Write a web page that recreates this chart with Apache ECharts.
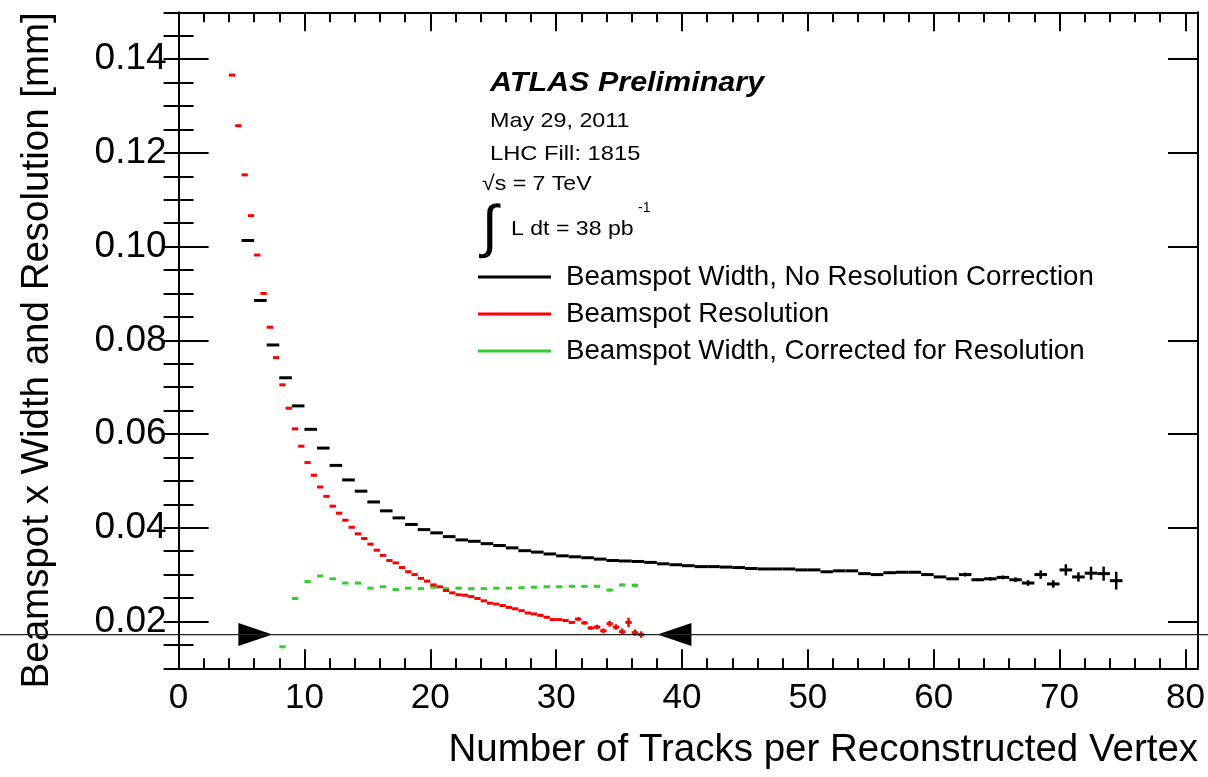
<!DOCTYPE html>
<html>
<head>
<meta charset="utf-8">
<script src="https://cdn.jsdelivr.net/npm/echarts@6.0.0/dist/echarts.min.js"></script>
<style>
html, body { margin: 0; padding: 0; background: #fff; }
#chart { width: 1208px; height: 777px; }
</style>
</head>
<body>
<div id="chart"></div>
<script>
const FONT = "'Liberation Sans', Arial, Helvetica, sans-serif";

// beamspot width, no resolution correction (bin centres, values, errors)
const blackX = [5.5, 6.5, 7.5, 8.5, 9.5, 10.5, 11.5, 12.5, 13.5, 14.5, 15.5, 16.5, 17.5, 18.5, 19.5, 20.5, 21.5, 22.5, 23.5, 24.5,
    25.5, 26.5, 27.5, 28.5, 29.5, 30.5, 31.5, 32.5, 33.5, 34.5, 35.5, 36.5, 37.5, 38.5, 39.5, 40.5, 41.5, 42.5, 43.5, 44.5,
    45.5, 46.5, 47.5, 48.5, 49.5, 50.5, 51.5, 52.5, 53.5, 54.5, 55.5, 56.5, 57.5, 58.5, 59.5, 60.5, 61.5, 62.5, 63.5, 64.5,
    65.5, 66.5, 67.5, 68.5, 69.5, 70.5, 71.5, 72.5, 73.5, 74.5];
const blackY = [0.1013, 0.0885, 0.0790, 0.0720, 0.0660, 0.0610, 0.0570, 0.0533, 0.0502, 0.0478, 0.0455, 0.0436, 0.0421, 0.0407, 0.0396, 0.0389, 0.0381, 0.0374, 0.0371, 0.0366,
    0.0362, 0.0357, 0.0351, 0.0348, 0.0344, 0.0340, 0.0338, 0.0336, 0.0333, 0.0330, 0.0329, 0.0328, 0.0326, 0.0323, 0.0321, 0.0319, 0.0317, 0.0317, 0.0316, 0.0315,
    0.0313, 0.0312, 0.0312, 0.0312, 0.0310, 0.0310, 0.0306, 0.0308, 0.0308, 0.0302, 0.0300, 0.0304, 0.0305, 0.0305, 0.0300, 0.0295, 0.0291, 0.0300, 0.0289, 0.0291,
    0.0294, 0.0289, 0.0282, 0.0300, 0.0280, 0.0310, 0.0295, 0.0303, 0.0302, 0.0287];
const blackErr = [0, 0, 0, 0, 0, 0, 0, 0, 0, 0, 0, 0, 0, 0, 0, 0, 0, 0, 0, 0,
    0, 0, 0, 0, 0, 0, 0, 0, 0, 0, 0, 0, 0, 0, 0, 0, 0, 0, 0, 0,
    0, 0, 0, 0, 0, 0, 0, 0, 0, 0.0002, 0.0002, 0.0002, 0.0002, 0.0002, 0.0002, 0.0002, 0.0002, 0.0004, 0.0003, 0.0004,
    0.0004, 0.0005, 0.0006, 0.0009, 0.0008, 0.0012, 0.0010, 0.0014, 0.0015, 0.0019];

// beamspot resolution
const redX = [4.25, 4.75, 5.25, 5.75, 6.25, 6.75, 7.25, 7.75, 8.25, 8.75, 9.25, 9.75, 10.25, 10.75, 11.25, 11.75, 12.25, 12.75, 13.25, 13.75,
    14.25, 14.75, 15.25, 15.75, 16.25, 16.75, 17.25, 17.75, 18.25, 18.75, 19.25, 19.75, 20.25, 20.75, 21.25, 21.75, 22.25, 22.75, 23.25, 23.75,
    24.25, 24.75, 25.25, 25.75, 26.25, 26.75, 27.25, 27.75, 28.25, 28.75, 29.25, 29.75, 30.25, 30.75, 31.25, 31.75, 32.25, 32.75, 33.25, 33.75,
    34.25, 34.75, 35.25, 35.75, 36.25, 36.75];
const redY = [0.1366, 0.1258, 0.1153, 0.1066, 0.0982, 0.0900, 0.0828, 0.0763, 0.0705, 0.0655, 0.0611, 0.0574, 0.0539, 0.0512, 0.0487, 0.0467, 0.0446, 0.0431, 0.0416, 0.0401,
    0.0387, 0.0377, 0.0365, 0.0352, 0.0341, 0.0330, 0.0325, 0.0315, 0.0306, 0.0300, 0.0292, 0.0286, 0.0278, 0.0274, 0.0266, 0.0261, 0.0257, 0.0256, 0.0253, 0.0249,
    0.0244, 0.0239, 0.0237, 0.0234, 0.0230, 0.0227, 0.0223, 0.0218, 0.0216, 0.0213, 0.0209, 0.0204, 0.0204, 0.0202, 0.0198, 0.0205, 0.0197, 0.0186, 0.0188, 0.0180,
    0.0195, 0.0188, 0.0178, 0.0198, 0.0176, 0.0172];
const redErr = [0, 0, 0, 0, 0, 0, 0, 0, 0, 0, 0, 0, 0, 0, 0, 0, 0, 0, 0, 0,
    0, 0, 0, 0, 0, 0, 0, 0, 0, 0, 0, 0, 0, 0, 0, 0, 0, 0, 0, 0,
    0, 0, 0, 0, 0, 0, 0, 0, 0, 0, 0.0002, 0.0002, 0.0002, 0.0003, 0.0003, 0.0004, 0.0004, 0.0004, 0.0005, 0.0005,
    0.0006, 0.0006, 0.0007, 0.0010, 0.0007, 0.0007];

// beamspot width, corrected for resolution
const greenX = [8.25, 9.25, 10.25, 11.25, 12.25, 13.25, 14.25, 15.25, 16.25, 17.25, 18.25, 19.25, 20.25, 21.25, 22.25,
    23.25, 24.25, 25.25, 26.25, 27.25, 28.25, 29.25, 30.25, 31.25, 32.25, 33.25, 34.25, 35.25, 36.25];
const greenY = [0.0146, 0.0249, 0.0285, 0.0297, 0.0291, 0.0282, 0.0282, 0.0271, 0.0274, 0.0268, 0.0271, 0.0270, 0.0273, 0.0270, 0.0271,
    0.0270, 0.0270, 0.0271, 0.0271, 0.0272, 0.0273, 0.0274, 0.0274, 0.0275, 0.0275, 0.0275, 0.0267, 0.0278, 0.0277];
const greenErr = [0, 0, 0, 0, 0, 0, 0, 0, 0, 0, 0, 0, 0, 0, 0,
    0, 0, 0, 0, 0, 0, 0, 0, 0, 0, 0, 0.0003, 0.0003, 0.0004];

const yTicks = [0.02, 0.04, 0.06, 0.08, 0.10, 0.12, 0.14];
const cutLevel = 0.0172;
const arrowX = [6.1, 39.4];
const arrowRotate = [-90, 90];

const legendNames = [
    'Beamspot Width, No Resolution Correction',
    'Beamspot Resolution',
    'Beamspot Width, Corrected for Resolution'
];

const toData = (xs, ys, es) => xs.map((x, i) => [x, ys[i], es[i]]);

// horizontal bin bar + vertical error bar, like ROOT's "E" drawing
function errBars(halfWidth) {
    return function (params, api) {
        const x = api.value(0), y = api.value(1), e = api.value(2);
        const color = api.visual('color');
        const a = api.coord([x - halfWidth, y]);
        const b = api.coord([x + halfWidth, y]);
        const kids = [{
            type: 'line',
            shape: { x1: a[0], y1: a[1], x2: b[0], y2: b[1] },
            style: { stroke: color, lineWidth: 3 }
        }];
        if (e > 0) {
            const lo = api.coord([x, y - e]);
            const hi = api.coord([x, y + e]);
            kids.push({
                type: 'line',
                shape: { x1: lo[0], y1: lo[1], x2: hi[0], y2: hi[1] },
                style: { stroke: color, lineWidth: 2.5 }
            });
        }
        return { type: 'group', children: kids };
    };
}

const frame = { show: true, onZero: false, lineStyle: { color: '#000', width: 2 } };
const tickStyle = { color: '#000', width: 2 };

const xAxisBase = { type: 'value', min: 0, max: 81, splitLine: { show: false } };
const yAxisBase = { type: 'value', min: 0.01, max: 0.15, splitLine: { show: false } };

const chart = echarts.init(document.getElementById('chart'));

chart.setOption({
    animation: false,
    backgroundColor: '#fff',
    grid: { left: 178.6, top: 12.3, width: 1019.4, height: 656 },
    xAxis: [
        Object.assign({}, xAxisBase, {
            position: 'bottom', interval: 10,
            axisLine: frame,
            axisTick: { inside: true, length: 19, lineStyle: tickStyle },
            axisLabel: { fontSize: 35, fontFamily: FONT, color: '#000', margin: 13, showMaxLabel: false },
            name: 'Number of Tracks per Reconstructed Vertex',
            nameLocation: 'middle', nameGap: 63,
            nameTextStyle: { fontSize: 38.5, fontFamily: FONT, color: '#000', padding: [0, 0, 0, 270] }
        }),
        Object.assign({}, xAxisBase, {
            position: 'bottom', interval: 2,
            axisLine: { show: false },
            axisTick: { inside: true, length: 10, lineStyle: tickStyle },
            axisLabel: { show: false }
        }),
        Object.assign({}, xAxisBase, {
            position: 'top', interval: 10,
            axisLine: frame,
            axisTick: { inside: true, length: 19, lineStyle: tickStyle },
            axisLabel: { show: false }
        }),
        Object.assign({}, xAxisBase, {
            position: 'top', interval: 2,
            axisLine: { show: false },
            axisTick: { inside: true, length: 10, lineStyle: tickStyle },
            axisLabel: { show: false }
        })
    ],
    yAxis: [
        Object.assign({}, yAxisBase, {
            position: 'left',
            axisLine: frame,
            axisTick: { inside: true, length: 30, lineStyle: tickStyle, customValues: yTicks },
            axisLabel: {
                customValues: yTicks, formatter: v => v.toFixed(2),
                fontSize: 37, fontFamily: FONT, color: '#000', margin: 12,
                padding: [6, 0, 0, 0]
            },
            name: 'Beamspot x Width and Resolution [mm]',
            nameLocation: 'middle', nameRotate: 90, nameGap: 122,
            nameTextStyle: { fontSize: 38.5, fontFamily: FONT, color: '#000', padding: [0, 20, 0, 0] }
        }),
        Object.assign({}, yAxisBase, {
            position: 'left', interval: 0.005,
            axisLine: { show: false },
            axisTick: { inside: true, length: 15, lineStyle: tickStyle },
            axisLabel: { show: false }
        }),
        Object.assign({}, yAxisBase, {
            position: 'right',
            axisLine: frame,
            axisTick: { inside: true, length: 30, lineStyle: tickStyle, customValues: yTicks },
            axisLabel: { show: false, customValues: yTicks }
        }),
        Object.assign({}, yAxisBase, {
            position: 'right', interval: 0.005,
            axisLine: { show: false },
            axisTick: { inside: true, length: 15, lineStyle: tickStyle },
            axisLabel: { show: false }
        })
    ],
    legend: {
        data: legendNames.map(n => ({ name: n, icon: 'rect' })),
        orient: 'vertical',
        left: 478, top: 263,
        padding: 0,
        itemWidth: 73, itemHeight: 3, itemGap: 9,
        selectedMode: false,
        textStyle: { fontSize: 27.7, fontFamily: FONT, color: '#000', lineHeight: 28, padding: [0, 0, 0, 10] }
    },
    series: [
        {
            name: legendNames[2], type: 'custom', renderItem: errBars(0.25),
            encode: { x: 0, y: 1 }, itemStyle: { color: '#33cc33' },
            data: toData(greenX, greenY, greenErr)
        },
        {
            name: legendNames[1], type: 'custom', renderItem: errBars(0.25),
            encode: { x: 0, y: 1 }, itemStyle: { color: '#ff0000' },
            data: toData(redX, redY, redErr)
        },
        {
            name: legendNames[0], type: 'custom', renderItem: errBars(0.5),
            encode: { x: 0, y: 1 }, itemStyle: { color: '#000000' },
            data: toData(blackX, blackY, blackErr)
        },
        {
            type: 'scatter', silent: true, symbol: 'triangle', symbolSize: [23, 34],
            itemStyle: { color: '#000', opacity: 1 },
            data: arrowX.map((x, i) => ({ value: [x, cutLevel], symbolRotate: arrowRotate[i] }))
        }
    ]
});

// reference level line runs across the whole canvas
const yPix = chart.convertToPixel({ yAxisIndex: 0 }, cutLevel);
const txt = (text, x, y, size, sx, extra) => ({
    type: 'text', x: x, y: y, scaleX: sx, silent: true,
    style: Object.assign({
        text: text, fontSize: size, fontFamily: FONT, fill: '#000',
        verticalAlign: 'middle', textVerticalAlign: 'middle'
    }, extra || {})
});

chart.setOption({
    graphic: [
        { type: 'line', silent: true, z: 10, shape: { x1: 0, y1: yPix, x2: 1208, y2: yPix }, style: { stroke: '#222', lineWidth: 1.2 } },
        txt('ATLAS Preliminary', 490, 84, 27, 1.13, { fontWeight: 'bold', fontStyle: 'italic' }),
        txt('May 29, 2011', 490, 121, 21, 1.11),
        txt('LHC Fill: 1815', 490, 154.5, 21, 1.13),
        txt('\u221As = 7 TeV', 482, 184, 21, 1.1),
        txt('\u222B', 482, 230, 58, 1),
        txt('L dt = 38 pb', 511, 229.7, 21, 1.1),
        txt('-1', 638, 208, 14, 1)
    ]
});
</script>
</body>
</html>
